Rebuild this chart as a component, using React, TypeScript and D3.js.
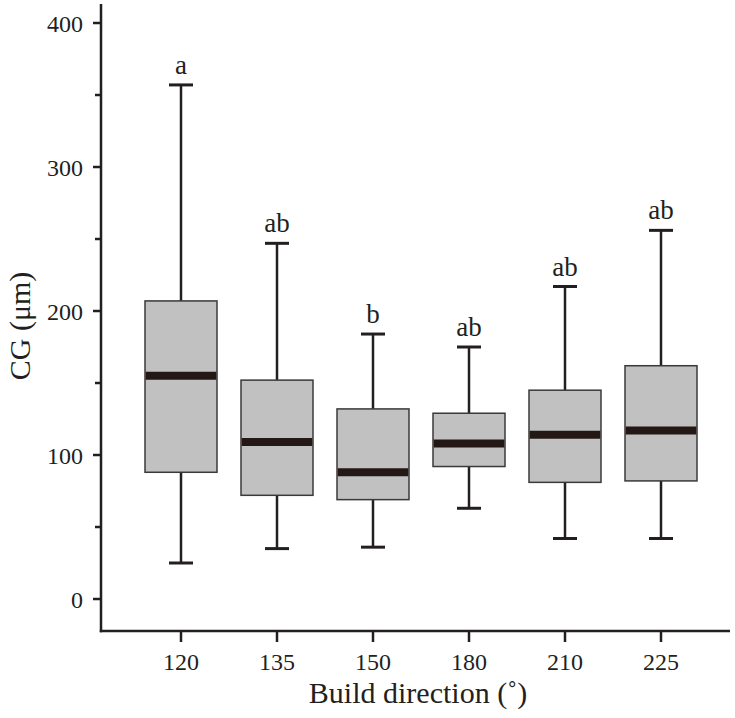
import React from "react";
import * as d3 from "d3";

const categories = ["120", "135", "150", "180", "210", "225"];
const whiskerLow = [25, 35, 36, 63, 42, 42];
const q1 = [88, 72, 69, 92, 81, 82];
const median = [155, 109, 88, 108, 114, 117];
const q3 = [207, 152, 132, 129, 145, 162];
const whiskerHigh = [357, 247, 184, 175, 217, 256];
const letters = ["a", "ab", "b", "ab", "ab", "ab"];
const yTicks = [0, 100, 200, 300, 400];
const yMinorTicks = [50, 150, 250, 350];

const W = 735;
const H = 718;
const axisColor = "#231f20";
const font = "'Liberation Serif', 'Times New Roman', serif";

export default function App() {
  const y = d3.scaleLinear().domain([0, 400]).range([599, 23]);
  const x = d3.scalePoint<string>().domain(categories).range([181, 661]);
  const boxW = 72;
  const capW = 24;
  const axisX = 101;
  const axisY = 631;

  return (
    <svg width={W} height={H} style={{ position: "absolute", left: 0, top: 0 }}>
      <rect width={W} height={H} fill="#fff" />
      {categories.map((c, i) => {
        const cx = x(c) as number;
        return (
          <g key={c}>
            <line x1={cx} x2={cx} y1={y(whiskerHigh[i])} y2={y(q3[i])} stroke={axisColor} strokeWidth={2.5} />
            <line x1={cx} x2={cx} y1={y(q1[i])} y2={y(whiskerLow[i])} stroke={axisColor} strokeWidth={2.5} />
            <line x1={cx - capW / 2} x2={cx + capW / 2} y1={y(whiskerHigh[i])} y2={y(whiskerHigh[i])} stroke={axisColor} strokeWidth={3} />
            <line x1={cx - capW / 2} x2={cx + capW / 2} y1={y(whiskerLow[i])} y2={y(whiskerLow[i])} stroke={axisColor} strokeWidth={3} />
            <rect x={cx - boxW / 2} y={y(q3[i])} width={boxW} height={y(q1[i]) - y(q3[i])} fill="#c1c1c1" stroke="#3b3838" strokeWidth={1.5} />
            <line x1={cx - boxW / 2 + 0.75} x2={cx + boxW / 2 - 0.75} y1={y(median[i])} y2={y(median[i])} stroke="#231815" strokeWidth={8} />
            <text x={cx} y={y(whiskerHigh[i]) - 11} textAnchor="middle" fontFamily={font} fontSize={27} fill={axisColor}>{letters[i]}</text>
          </g>
        );
      })}
      {/* Y axis */}
      <line x1={axisX} x2={axisX} y1={4} y2={axisY + 1.25} stroke={axisColor} strokeWidth={2.5} />
      {yTicks.map((t) => (
        <g key={t}>
          <line x1={93} x2={axisX} y1={y(t)} y2={y(t)} stroke={axisColor} strokeWidth={2.5} />
          <text x={83} y={y(t)} dy="0.36em" textAnchor="end" fontFamily={font} fontSize={24} fill={axisColor}>{t}</text>
        </g>
      ))}
      {yMinorTicks.map((t) => (
        <line key={t} x1={95} x2={axisX} y1={y(t)} y2={y(t)} stroke={axisColor} strokeWidth={2.5} />
      ))}
      {/* X axis */}
      <line x1={axisX - 1.25} x2={730} y1={axisY} y2={axisY} stroke={axisColor} strokeWidth={2.5} />
      {categories.map((c) => (
        <g key={c}>
          <line x1={x(c) as number} x2={x(c) as number} y1={axisY} y2={642} stroke={axisColor} strokeWidth={2.5} />
          <text x={x(c) as number} y={670} textAnchor="middle" fontFamily={font} fontSize={24} fill={axisColor}>{c}</text>
        </g>
      ))}
      <text x={418} y={703} textAnchor="middle" fontFamily={font} fontSize={30} fill={axisColor}>Build direction (˚)</text>
      <text transform={`translate(30, 326) rotate(-90)`} textAnchor="middle" fontFamily={font} fontSize={30} fill={axisColor}>CG (μm)</text>
    </svg>
  );
}
